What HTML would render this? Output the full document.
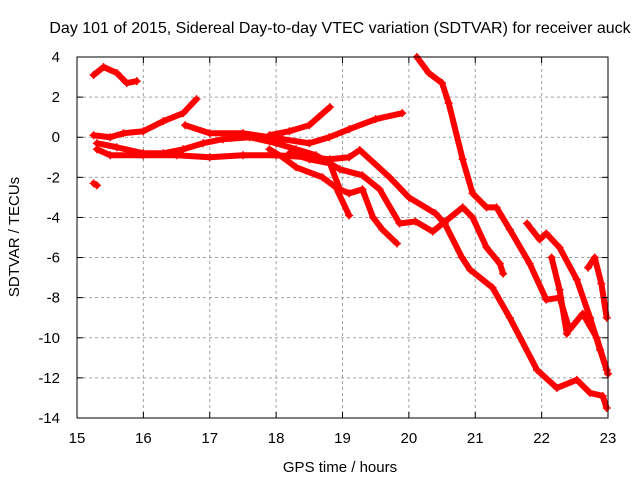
<!DOCTYPE html>
<html><head><meta charset="utf-8"><style>
body{margin:0;background:#fff}
svg{display:block;font-family:"Liberation Sans",sans-serif}
</style></head><body>
<svg id="chart" width="640" height="480" viewBox="0 0 640 480">
<rect width="640" height="480" fill="#fff"/>
<text x="340" y="33" font-size="16" text-anchor="middle">Day 101 of 2015, Sidereal Day-to-day VTEC variation (SDTVAR) for receiver auck</text>
<text x="340" y="472" font-size="15" text-anchor="middle">GPS time / hours</text>
<text x="19" y="237" font-size="15" text-anchor="middle" transform="rotate(-90 19 237)">SDTVAR / TECUs</text>
<g id="grid"></g><g id="series"></g><g id="axes"></g>
</svg>
<script>
const xTicks=[15,16,17,18,19,20,21,22,23];
const yTicks=[4,2,0,-2,-4,-6,-8,-10,-12,-14];
const s1x=[15.25,15.4,15.6,15.75,15.9];
const s1y=[3.1,3.5,3.2,2.7,2.8];
const s2x=[15.25,15.5,15.7,16,16.3,16.6,16.8];
const s2y=[0.1,0.0,0.2,0.3,0.8,1.2,1.9];
const s3x=[16.63,17.0,17.5,17.9,18.1,18.5,18.8,19.1,19.5,19.9];
const s3y=[0.6,0.2,0.2,0.0,-0.1,-0.3,0.0,0.4,0.9,1.2];
const s4x=[17.9,18.2,18.5,18.81];
const s4y=[0.1,0.3,0.6,1.5];
const s5x=[15.3,15.5,16,16.5,17,17.5,18,18.5,18.81,19.1,19.26,19.71,20.0,20.4,20.54,20.8,20.92,21.26,21.52,21.93,22.23,22.53,22.73,22.92,22.98];
const s5y=[-0.6,-0.9,-0.9,-0.9,-1.0,-0.9,-0.9,-1.0,-1.1,-1.0,-0.64,-2.0,-3.0,-3.8,-4.3,-6.0,-6.6,-7.5,-9.0,-11.6,-12.5,-12.1,-12.75,-12.9,-13.5];
const s6x=[15.3,15.6,16.0,16.3,16.6,16.9,17.2,17.6,18.0,18.3,18.6,18.96,19.3,19.56,19.86,20.1,20.36,20.81,20.96,21.17,21.37,21.42];
const s6y=[-0.3,-0.5,-0.8,-0.8,-0.6,-0.3,-0.1,0.0,-0.3,-0.6,-0.9,-1.6,-1.9,-2.6,-4.3,-4.2,-4.7,-3.5,-4.0,-5.5,-6.3,-6.8];
const s7x=[20.12,20.3,20.5,20.6,20.81,20.96,21.17,21.32,21.52,21.82,22.07,22.27,22.42,22.62,22.83,22.98];
const s7y=[4.0,3.2,2.7,1.7,-1.1,-2.8,-3.5,-3.5,-4.6,-6.3,-8.1,-8.0,-9.6,-8.8,-10.0,-11.6];
const s8x=[21.78,21.97,22.07,22.27,22.53,22.73,22.88,23.0];
const s8y=[-4.3,-5.1,-4.8,-5.5,-7.1,-9.0,-10.6,-11.8];
const s9x=[22.15,22.27,22.38];
const s9y=[-6.0,-7.6,-9.8];
const s10x=[22.7,22.8,22.9,22.98];
const s10y=[-6.5,-6.0,-7.3,-9.0];
const s11x=[17.9,18.1,18.3,18.7,18.9,19.1];
const s11y=[-0.6,-1.0,-1.5,-2.0,-2.5,-3.9];
const s12x=[18.2,18.5,18.81,18.96,19.1,19.3,19.46,19.6,19.82];
const s12y=[-0.8,-1.1,-1.3,-2.6,-2.8,-2.6,-4.0,-4.6,-5.3];
const s13x=[15.25,15.3];
const s13y=[-2.3,-2.4];
const allSeries=[[s1x,s1y],[s2x,s2y],[s3x,s3y],[s4x,s4y],[s5x,s5y],[s6x,s6y],[s7x,s7y],[s8x,s8y],[s9x,s9y],[s10x,s10y],[s11x,s11y],[s12x,s12y],[s13x,s13y]];
const L=77,R=608,T=57,B=418;
const X=v=>L+(v-15)/8*(R-L);
const Y=v=>T+(4-v)/18*(B-T);
const NS='http://www.w3.org/2000/svg';
function mk(tag,attrs,parent){const e=document.createElementNS(NS,tag);for(const k in attrs)e.setAttribute(k,attrs[k]);parent.appendChild(e);return e;}
const grid=document.getElementById('grid'),axes=document.getElementById('axes'),ser=document.getElementById('series');
xTicks.forEach(t=>{
 if(t>15&&t<23){const g=mk('line',{x1:X(t),x2:X(t),y1:T,y2:B,stroke:'#a0a0a0','stroke-dasharray':'3,3'},grid);
 
 }
 mk('line',{x1:X(t),x2:X(t),y1:B,y2:B-6,stroke:'#000'},axes);
 mk('line',{x1:X(t),x2:X(t),y1:T,y2:T+6,stroke:'#000'},axes);
 const tx=mk('text',{x:X(t),y:B+25,'font-size':15,'text-anchor':'middle'},axes);tx.textContent=t;
 
 
});
yTicks.forEach(t=>{
 if(t<4&&t>-14){const g=mk('line',{x1:L,x2:R,y1:Y(t),y2:Y(t),stroke:'#a0a0a0','stroke-dasharray':'3,3'},grid);
 
 }
 mk('line',{x1:L,x2:L+6,y1:Y(t),y2:Y(t),stroke:'#000'},axes);
 mk('line',{x1:R,x2:R-6,y1:Y(t),y2:Y(t),stroke:'#000'},axes);
 const tx=mk('text',{x:L-17,y:Y(t)+5,'font-size':15,'text-anchor':'end'},axes);tx.textContent=t;
 
 
});
const frame=mk('rect',{x:L,y:T,width:R-L,height:B-T,fill:'none',stroke:'#000'},axes);


allSeries.forEach(([xs,ys],i)=>{
 const pts=xs.map((x,j)=>X(x)+','+Y(ys[j])).join(' ');
 const pl=mk('polyline',{points:pts,fill:'none',stroke:'#f00','stroke-width':6,'stroke-linejoin':'round','stroke-linecap':'round'},ser);
 
 
 xs.forEach((x,j)=>{
  const cx=X(x),cy=Y(ys[j]);
  const m=mk('path',{d:`M${cx-4},${cy}h8M${cx},${cy-4}v8`,stroke:'#f00','stroke-width':1.5},ser);
  
  
 });
});
</script>
</body></html>
